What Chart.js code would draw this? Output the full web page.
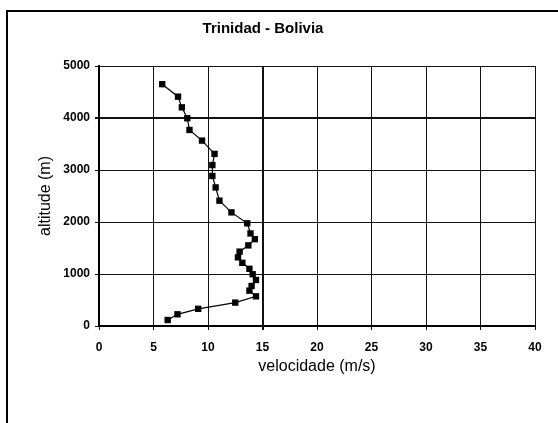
<!DOCTYPE html>
<html>
<head>
<meta charset="utf-8">
<script src="https://cdn.jsdelivr.net/npm/chart.js@4/dist/chart.umd.min.js"></script>
<style>
  body { margin: 0; background: #fff; }
  #wrap { position: relative; width: 558px; height: 423px; }
  #frame { position: absolute; left: 6px; top: 10px; right: 0; bottom: 0;
           border-left: 2px solid #000; border-top: 2px solid #000; pointer-events: none; }
</style>
</head>
<body>
<div id="wrap">
  <canvas id="grafico" width="558" height="423"></canvas>
  <div id="frame"></div>
</div>
<script>
// perfil de vento
let velocidade = [6.3, 7.2, 9.1, 12.5, 14.4, 13.8, 14.0, 14.4, 14.1, 13.8, 13.15, 12.75, 12.9, 13.7, 14.3, 13.9, 13.6, 12.15, 11.05, 10.7, 10.4, 10.4, 10.6, 9.45, 8.3, 8.1, 7.6, 7.25, 5.8];
let altitude = [115, 225, 330, 450, 570, 680, 770, 885, 995, 1100, 1215, 1320, 1430, 1550, 1670, 1780, 1975, 2185, 2410, 2665, 2885, 3095, 3310, 3565, 3770, 3995, 4205, 4410, 4650];

let titulo = "Trinidad - Bolivia";
let titulo_x = "velocidade (m/s)";
let titulo_y = "altitude (m)";

let pontos = velocidade.map((v, i) => ({ x: v, y: altitude[i] }));

//title drawn at its own spot, like the scanned original
const tituloPlugin = {
  id: "tituloPlugin",
  afterDraw(chart) {
    const c = chart.ctx;
    c.save();
    c.font = "bold 15px 'Liberation Sans', Arial, sans-serif";
    c.fillStyle = "#000";
    c.textAlign = "center";
    c.textBaseline = "middle";
    c.fillText(titulo, 263, 29);
    c.restore();
  }
};

const ctx = document.getElementById("grafico").getContext("2d");

new Chart(ctx, {
  type: "scatter",
  data: {
    datasets: [{
      label: titulo,
      data: pontos,
      showLine: true,
      borderColor: "#000",
      backgroundColor: "#000",
      borderWidth: 1.2,
      pointStyle: "rect",
      pointRadius: 4.5,
      pointBorderWidth: 0,
      tension: 0
    }]
  },
  options: {
    responsive: false,
    animation: false,
    layout: { padding: { top: 66, right: 23, bottom: 0, left: 0 } },
    plugins: {
      legend: { display: false },
      tooltip: { enabled: false }
    },
    scales: {
      x: {
        type: "linear",
        min: 0,
        max: 40,
        afterFit: (s) => { s.height = 97; },
        ticks: {
          stepSize: 5,
          color: "#000",
          padding: 10,
          font: { family: "'Liberation Sans', Arial, sans-serif", size: 12, weight: "bold" }
        },
        grid: {
          color: "#111",
          lineWidth: (c) => (c.tick && c.tick.value == 15 ? 2 : 1),
          tickLength: 4
        },
        border: { color: "#000", width: 2 },
        title: {
          display: true,
          text: titulo_x,
          color: "#000",
          padding: { top: 0, bottom: 47 },
          font: { family: "'Liberation Sans', Arial, sans-serif", size: 16 }
        }
      },
      y: {
        type: "linear",
        min: 0,
        max: 5000,
        afterFit: (s) => { s.width = 99; },
        ticks: {
          stepSize: 1000,
          color: "#000",
          padding: 5,
          callback: (v) => String(v),
          font: { family: "'Liberation Sans', Arial, sans-serif", size: 12, weight: "bold" }
        },
        grid: {
          color: "#111",
          lineWidth: (c) => (c.tick && c.tick.value == 4000 ? 2 : 1),
          tickLength: 4
        },
        border: { color: "#000", width: 2 },
        title: {
          display: true,
          text: titulo_y,
          color: "#000",
          padding: { top: 36, bottom: 0 },
          font: { family: "'Liberation Sans', Arial, sans-serif", size: 16 }
        }
      }
    }
  },
  plugins: [tituloPlugin]
});
</script>
</body>
</html>
